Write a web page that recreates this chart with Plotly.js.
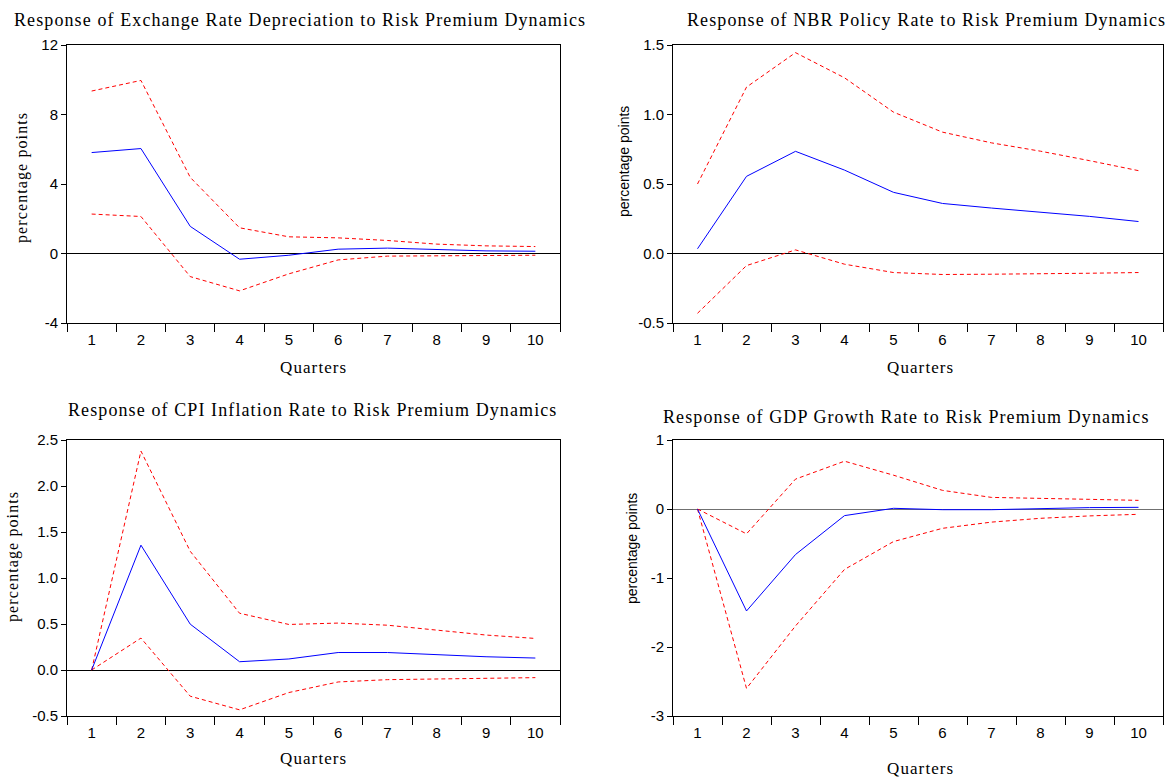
<!DOCTYPE html>
<html>
<head>
<meta charset="utf-8">
<script src="https://cdn.plot.ly/plotly-3.0.1.min.js"></script>
<style>
html,body{margin:0;padding:0;background:#fff;}
#chart{width:1167px;height:777px;}
text.annotation-text[style*="Serif"]{letter-spacing:1.1px;}
</style>
</head>
<body>
<div id="chart"></div>
<script>
// ---- Data ----
const quarters = ['1','2','3','4','5','6','7','8','9','10'];

const titles = [
  'Response of Exchange Rate Depreciation to Risk Premium Dynamics',
  'Response of NBR Policy Rate to Risk Premium Dynamics',
  'Response of CPI Inflation Rate to Risk Premium Dynamics',
  'Response of GDP Growth Rate to Risk Premium Dynamics'
];

const exrResp  = [5.81, 6.04, 1.56, -0.33, -0.10, 0.25, 0.31, 0.21, 0.15, 0.13];
const exrUpper = [9.35, 9.96, 4.38, 1.48, 0.96, 0.90, 0.75, 0.54, 0.44, 0.40];
const exrLower = [2.27, 2.13, -1.33, -2.15, -1.17, -0.37, -0.15, -0.13, -0.12, -0.10];

const nbrResp  = [0.034, 0.555, 0.735, 0.600, 0.440, 0.360, 0.327, 0.298, 0.267, 0.230];
const nbrUpper = [0.500, 1.197, 1.445, 1.264, 1.017, 0.873, 0.796, 0.736, 0.668, 0.596];
const nbrLower = [-0.430, -0.087, 0.026, -0.077, -0.137, -0.151, -0.149, -0.147, -0.142, -0.137];

const cpiResp  = [0.0, 1.357, 0.498, 0.090, 0.120, 0.190, 0.190, 0.166, 0.144, 0.130];
const cpiUpper = [0.0, 2.380, 1.290, 0.617, 0.495, 0.510, 0.487, 0.430, 0.380, 0.343];
const cpiLower = [0.0, 0.347, -0.285, -0.433, -0.245, -0.130, -0.105, -0.100, -0.094, -0.083];

const gdpResp  = [0.0, -1.478, -0.660, -0.096, 0.010, -0.010, -0.010, 0.005, 0.020, 0.024];
const gdpUpper = [0.0, -0.360, 0.433, 0.693, 0.490, 0.270, 0.168, 0.150, 0.140, 0.125];
const gdpLower = [0.0, -2.600, -1.695, -0.876, -0.472, -0.280, -0.190, -0.135, -0.100, -0.077];

const yTicks = [
  {vals:[-4,0,4,8,12], text:['-4','0','4','8','12'], range:[-4,12]},
  {vals:[-0.5,0,0.5,1,1.5], text:['-0.5','0.0','0.5','1.0','1.5'], range:[-0.5,1.5]},
  {vals:[-0.5,0,0.5,1,1.5,2,2.5], text:['-0.5','0.0','0.5','1.0','1.5','2.0','2.5'], range:[-0.5,2.5]},
  {vals:[-3,-2,-1,0,1], text:['-3','-2','-1','0','1'], range:[-3,1]}
];

// ---- Layout geometry (pixels) ----
const W = 1167, H = 777;
const px = v => v / W;
const py = v => 1 - v / H;
const boxes = [
  {x0:67,  x1:560,  y0:45,  y1:323},
  {x0:673, x1:1163, y0:45,  y1:323},
  {x0:67,  x1:560,  y0:440, y1:716},
  {x0:673, x1:1163, y0:440, y1:716}
];
const series = [
  [exrResp, exrUpper, exrLower],
  [nbrResp, nbrUpper, nbrLower],
  [cpiResp, cpiUpper, cpiLower],
  [gdpResp, gdpUpper, gdpLower]
];

const data = [];
const layout = {
  width: W, height: H,
  margin: {l:0, r:0, t:0, b:0},
  paper_bgcolor: '#fff', plot_bgcolor: '#fff',
  showlegend: false,
  annotations: []
};

const serif = 'Liberation Serif, Times New Roman, serif';
const sans = 'Liberation Sans, Arial, sans-serif';

series.forEach((s, i) => {
  const k = i === 0 ? '' : String(i + 1);
  const xa = 'x' + k, ya = 'y' + k;
  const b = boxes[i];
  data.push({x: quarters, y: s[1], xaxis: xa, yaxis: ya, type: 'scatter', mode: 'lines',
    line: {color: '#ff0000', width: 1, dash: '4px,3px'}, hoverinfo: 'skip'});
  data.push({x: quarters, y: s[2], xaxis: xa, yaxis: ya, type: 'scatter', mode: 'lines',
    line: {color: '#ff0000', width: 1, dash: '4px,3px'}, hoverinfo: 'skip'});
  data.push({x: quarters, y: s[0], xaxis: xa, yaxis: ya, type: 'scatter', mode: 'lines',
    line: {color: '#0000ff', width: 1}, hoverinfo: 'skip'});

  layout['xaxis' + k] = {
    domain: [px(b.x0), px(b.x1)], anchor: ya, type: 'category',
    range: [-0.5, quarters.length - 0.5], autorange: false,
    tickson: 'boundaries', ticks: 'outside', ticklen: 8, tickwidth: 1, tickcolor: '#000',
    ticklabelstandoff: 3,
    showline: true, mirror: true, linecolor: '#000', linewidth: 1,
    showgrid: false, zeroline: false, fixedrange: true,
    tickfont: {family: sans, size: 15, color: '#000'}
  };
  const t = yTicks[i];
  layout['yaxis' + k] = {
    domain: [py(b.y1), py(b.y0)], anchor: xa, range: t.range,
    tickmode: 'array', tickvals: t.vals, ticktext: t.text,
    ticks: 'outside', ticklen: 5, tickwidth: 1, tickcolor: '#000',
    showline: true, mirror: true, linecolor: '#000', linewidth: 1,
    showgrid: false, zeroline: true, zerolinecolor: i === 3 ? '#707070' : '#000', zerolinewidth: 1,
    fixedrange: true,
    tickfont: {family: sans, size: 15, color: '#000'}
  };
});

// titles
const titlePos = [[300, 20], [926, 20], [312, 410], [907, 417]];
titles.forEach((t, i) => {
  layout.annotations.push({text: t, xref: 'paper', yref: 'paper',
    x: px(titlePos[i][0]), y: py(titlePos[i][1]), xanchor: 'center', yanchor: 'middle',
    showarrow: false, font: {family: serif, size: 18, color: '#000'}});
});
// x titles
const xtPos = [[313, 367], [920, 367], [313, 758], [920, 768]];
xtPos.forEach(p => {
  layout.annotations.push({text: 'Quarters', xref: 'paper', yref: 'paper',
    x: px(p[0]), y: py(p[1]), xanchor: 'center', yanchor: 'middle',
    showarrow: false, font: {family: serif, size: 17, color: '#000'}});
});
// y titles
const ytPos = [[22, 178, serif, 16], [624, 162, sans, 14], [13, 557, serif, 16], [632, 549, sans, 14]];
ytPos.forEach(p => {
  layout.annotations.push({text: 'percentage points', xref: 'paper', yref: 'paper',
    x: px(p[0]), y: py(p[1]), xanchor: 'center', yanchor: 'middle', textangle: -90,
    showarrow: false, font: {family: p[2], size: p[3], color: '#000'}});
});

Plotly.newPlot('chart', data, layout, {staticPlot: true});
</script>
</body>
</html>
